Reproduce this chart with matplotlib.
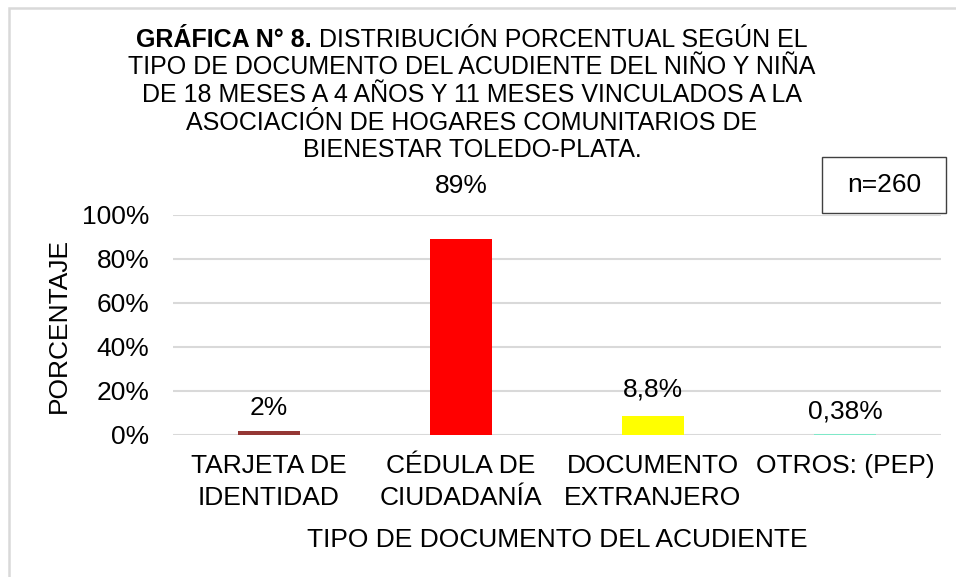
import matplotlib
matplotlib.use("Agg")
import matplotlib.pyplot as plt
from matplotlib.patches import Rectangle
from matplotlib.offsetbox import TextArea, HPacker, AnchoredOffsetbox

plt.rcParams['font.family'] = ['Liberation Sans', 'DejaVu Sans']

categories = ["TARJETA DE\nIDENTIDAD", "CÉDULA DE\nCIUDADANÍA", "DOCUMENTO\nEXTRANJERO", "OTROS: (PEP)"]
values = [2, 89, 8.8, 0.38]
value_labels = ["2%", "89%", "8,8%", "0,38%"]
colors = ["#953735", "#FF0000", "#FFFF00", "#7FE8C8"]
yticks = [0, 20, 40, 60, 80, 100]
ytick_labels = ["0%", "20%", "40%", "60%", "80%", "100%"]
title_bold = "GRÁFICA N° 8."
title_line1 = " DISTRIBUCIÓN PORCENTUAL SEGÚN EL"
title_rest = ["TIPO DE DOCUMENTO DEL ACUDIENTE DEL NIÑO Y NIÑA",
              "DE 18 MESES A 4 AÑOS Y 11 MESES VINCULADOS A LA",
              "ASOCIACIÓN DE HOGARES COMUNITARIOS DE",
              "BIENESTAR TOLEDO-PLATA."]

W, H = 956, 577
fig = plt.figure(figsize=(W/100, H/100), dpi=100)

# outer light frame (top and left edges visible)
fig.patches.append(Rectangle((9/W, -1), 2, 2 - 8/H, transform=fig.transFigure,
                             fill=False, edgecolor="#d9d9d9", linewidth=1.8))

ax = fig.add_axes([173/W, 1-435/H, (941-173)/W, (435-215)/H])
x = list(range(len(categories)))
ax.bar(x, values, width=0.32, color=colors, zorder=3)
ax.set_xlim(-0.5, len(categories)-0.5)
ax.set_ylim(0, 100)
fs = 19
ax.set_yticks(yticks)
ax.set_yticklabels(ytick_labels, fontsize=fs)
ax.set_xticks(x)
ax.set_xticklabels(categories, fontsize=fs, linespacing=1.38)
ax.tick_params(axis='y', length=0, pad=17)
ax.tick_params(axis='x', length=0, pad=14)
for s in ax.spines.values():
    s.set_visible(False)
ax.yaxis.grid(True, color="#d9d9d9", linewidth=1.5, zorder=0)
ax.set_axisbelow(True)
ax.set_ylabel("PORCENTAJE", fontsize=fs, labelpad=8)
ax.set_xlabel("TIPO DE DOCUMENTO DEL ACUDIENTE", fontsize=fs, labelpad=13)

offsets = [23, 53, 26, 23]
for xi, v, lab, off in zip(x, values, value_labels, offsets):
    ax.annotate(lab, (xi, v), xytext=(0, off), textcoords="offset pixels",
                ha="center", va="center", fontsize=fs)

# title
tsize = 18
line1 = HPacker(children=[TextArea(title_bold, textprops=dict(fontsize=tsize, fontweight="bold")),
                          TextArea(title_line1, textprops=dict(fontsize=tsize))],
                pad=0, sep=0, align="baseline")
ab = AnchoredOffsetbox(loc="center", child=line1, frameon=False, pad=0, borderpad=0,
                       bbox_to_anchor=(472/W, 1-40/H), bbox_transform=fig.transFigure)
fig.add_artist(ab)
for i, t in enumerate(title_rest):
    fig.text(472/W, 1-(67.5+27.5*i)/H, t, ha="center", va="center", fontsize=tsize)

# n box
fig.patches.append(Rectangle((822/W, 1-213/H), (946-822)/W, (213-157)/H, transform=fig.transFigure,
                             fill=True, facecolor="white", edgecolor="#404040", linewidth=1.0))
fig.text(884/W, 1-185/H, "n=260", ha="center", va="center", fontsize=fs)

fig.savefig("out.png", dpi=100)
